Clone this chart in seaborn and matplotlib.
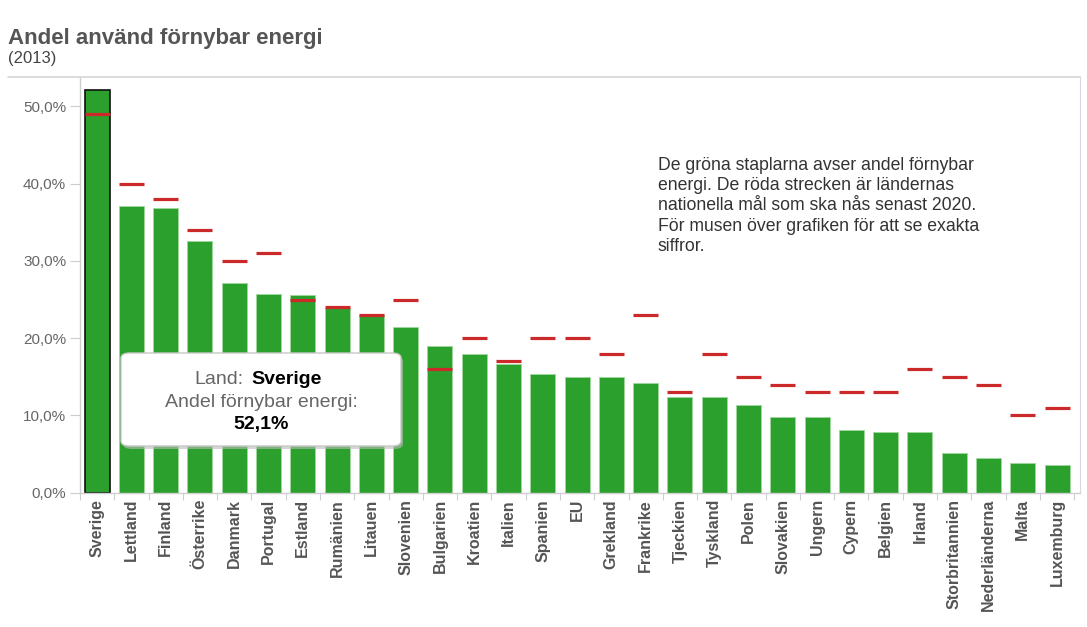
import numpy as np
import pandas as pd
import matplotlib
matplotlib.use("Agg")
import matplotlib.pyplot as plt
from matplotlib.patches import FancyBboxPatch
from matplotlib.lines import Line2D
from matplotlib.ticker import FuncFormatter, FixedLocator
import seaborn as sns

countries = ["Sverige", "Lettland", "Finland", "Österrike", "Danmark", "Portugal",
             "Estland", "Rumänien", "Litauen", "Slovenien", "Bulgarien", "Kroatien",
             "Italien", "Spanien", "EU", "Grekland", "Frankrike", "Tjeckien",
             "Tyskland", "Polen", "Slovakien", "Ungern", "Cypern", "Belgien",
             "Irland", "Storbritannien", "Nederländerna", "Malta", "Luxemburg"]
share_2013 = [52.1, 37.1, 36.8, 32.6, 27.2, 25.7, 25.6, 23.9, 23.0, 21.5, 19.0, 18.0,
              16.7, 15.4, 15.0, 15.0, 14.2, 12.4, 12.4, 11.3, 9.8, 9.8, 8.1, 7.9,
              7.8, 5.1, 4.5, 3.8, 3.6]
target_2020 = [49, 40, 38, 34, 30, 31, 25, 24, 23, 25, 16, 20,
               17, 20, 20, 18, 23, 13, 18, 15, 14, 13, 13, 13,
               16, 15, 14, 10, 11]
yticks = [0, 10, 20, 30, 40, 50]

df = pd.DataFrame({"Land": countries, "Andel": share_2013, "Mal": target_2020})

sns.set_style("white")
plt.rcParams["font.family"] = ["Liberation Sans", "DejaVu Sans"]

W, H = 1087, 627
fig = plt.figure(figsize=(W / 100, H / 100), dpi=100)
ax = fig.add_axes([80 / W, 1 - 492.7 / H, 1000 / W, (492.7 - 77) / H])

green = "#2ca02c"
red = "#cc2a2a"
sns.barplot(data=df, x="Land", y="Andel", color=green, width=0.73,
            edgecolor="#9fd89f", linewidth=0.6, saturation=1, ax=ax, zorder=2)
ax.patches[0].set_edgecolor("#111111")
ax.patches[0].set_linewidth(1.2)

xs = np.arange(len(countries))
ax.hlines(df["Mal"], xs - 0.365, xs + 0.365, color=red, lw=2.3, zorder=3)

ax.set_xlim(-0.466, 28.67)
ax.set_ylim(0, 53.8)
ax.set_xlabel("")
ax.set_ylabel("")

ax.yaxis.set_major_locator(FixedLocator(yticks))
ax.yaxis.set_major_formatter(FuncFormatter(lambda v, p: f"{v:.1f}%".replace(".", ",")))
ax.tick_params(axis="y", left=True, length=7, width=0.8, color="#cccccc",
               labelsize=11, labelcolor="#666666", pad=3)
ax.tick_params(axis="x", bottom=False, labelsize=11.5, labelcolor="#555555", pad=1)
for lab in ax.get_xticklabels():
    lab.set_rotation(90)
    lab.set_fontweight("bold")
    lab.set_va("top")
ax.set_xticks(np.arange(len(countries) + 1) - 0.5, minor=True)
ax.tick_params(axis="x", which="minor", bottom=True, length=5, width=0.8, color="#d0d0d0")

for s in ["left", "bottom"]:
    ax.spines[s].set_color("#cfcfcf")
    ax.spines[s].set_linewidth(1)
ax.spines["right"].set_color("#d8d8e4")
ax.spines["top"].set_visible(False)
ax.grid(False)

fig.add_artist(Line2D([8 / W, 1080 / W], [1 - 77 / H, 1 - 77 / H],
                      color="#d6d6d6", lw=1.2, transform=fig.transFigure))

fig.text(8 / W, 1 - 44 / H, "Andel använd förnybar energi", fontsize=16,
         fontweight="bold", color="#555555", va="baseline", ha="left")
fig.text(8 / W, 1 - 63 / H, "(2013)", fontsize=12, color="#444444",
         va="baseline", ha="left")

fig.text(658 / W, 1 - 157 / H,
         "De gröna staplarna avser andel förnybar\nenergi. De röda strecken är ländernas\n"
         "nationella mål som ska nås senast 2020.\nFör musen över grafiken för att se exakta\nsiffror.",
         fontsize=12.7, color="#333333", ha="left", va="top", linespacing=1.25,
         transform=fig.transFigure)

# tooltip
bx0, by0, bx1, by1 = 121, 353, 401, 446
shadow = FancyBboxPatch((bx0 / W + 2 / W, 1 - (by1 + 3) / H), (bx1 - bx0) / W, (by1 - by0) / H,
                        boxstyle="round,pad=0,rounding_size=0.008", transform=fig.transFigure,
                        facecolor="#bbbbbb", edgecolor="none", alpha=0.6, zorder=9)
box = FancyBboxPatch((bx0 / W, 1 - by1 / H), (bx1 - bx0) / W, (by1 - by0) / H,
                     boxstyle="round,pad=0,rounding_size=0.008", transform=fig.transFigure,
                     facecolor="white", edgecolor="#c8c8c8", lw=1, zorder=10)
fig.add_artist(shadow)
fig.add_artist(box)
fig.text(244 / W, 1 - 384 / H, "Land:", fontsize=14, color="#666666", ha="right",
         va="baseline", zorder=11)
fig.text(251 / W, 1 - 384 / H, "Sverige", fontsize=14, color="black", fontweight="bold",
         ha="left", va="baseline", zorder=11)
fig.text(261 / W, 1 - 407 / H, "Andel förnybar energi:", fontsize=14, color="#666666",
         ha="center", va="baseline", zorder=11)
fig.text(261 / W, 1 - 429 / H, f"{share_2013[0]:.1f}%".replace(".", ","), fontsize=14,
         color="black", fontweight="bold", ha="center", va="baseline", zorder=11)

fig.savefig("out.png", dpi=100, facecolor="white")
